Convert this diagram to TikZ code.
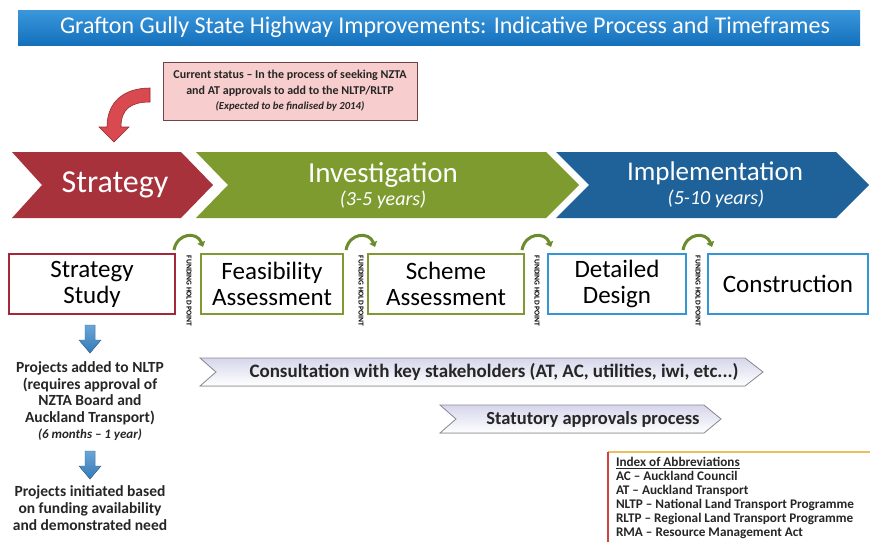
\documentclass[tikz,border=0pt]{standalone}
\usepackage{fontspec}
\setmainfont{Carlito}
\usetikzlibrary{arrows.meta}
\definecolor{titletop}{HTML}{3A97DC}
\definecolor{titlebot}{HTML}{1570BC}
\definecolor{stratred}{HTML}{A8323C}
\definecolor{invgreen}{HTML}{7D9B2E}
\definecolor{impblue}{HTML}{1F6199}
\definecolor{statusfill}{HTML}{F8CDCD}
\definecolor{statusdraw}{HTML}{6E4444}
\definecolor{arrowred}{HTML}{D84A50}
\definecolor{arrowreddark}{HTML}{9A2A30}
\definecolor{boxred}{HTML}{A3283A}
\definecolor{boxgreen}{HTML}{7F9A35}
\definecolor{boxblue}{HTML}{3496D6}
\definecolor{arcgreen}{HTML}{6B8C2C}
\definecolor{downblue}{HTML}{3A87CB}
\definecolor{lavender}{HTML}{D6D6EC}
\definecolor{chevgray}{HTML}{8C8C96}
\definecolor{abbrred}{HTML}{D04040}
\definecolor{abbryellow}{HTML}{E8C060}
\tikzset{
  fs/.style={font=\fontsize{#1}{#1}\selectfont},
  phase/.style={text=white, align=center},
  stagebox/.style={draw=#1, line width=2.2pt, fill=white, align=center, font=\fontsize{25}{26}\selectfont, minimum height=60pt},
  fundtext/.style={rotate=-90, font=\bfseries\fontsize{7.5}{8}\selectfont},
  fundarc/.style={draw=arcgreen, line width=3pt, -{Triangle[width=8pt,length=5pt]}},
  downarrow/.style={top color=downblue!75!white, bottom color=downblue!90!black, draw=downblue!80!black, line width=0.4pt},
  lefttext/.style={align=center, font=\bfseries\fontsize{15.5}{16.7}\selectfont, text=black!85},
  flowchev/.style={top color=lavender, bottom color=white, draw=chevgray, line width=0.8pt},
  flowtext/.style={font=\bfseries\fontsize{#1}{19}\selectfont, text=black!85}
}
\begin{document}
\begin{tikzpicture}[x=1pt,y=-1pt, every node/.style={inner sep=0pt, outer sep=0pt}]
\useasboundingbox (0,0) rectangle (870,541);
\fill[white] (0,0) rectangle (870,541);

% title bar
\shade[top color=titletop, bottom color=titlebot] (18,10) rectangle (860,45);
\node[text=white, fs=24] (title) at (445,27.5) {Grafton Gully State Highway Improvements: Indicative Process and Timeframes};

% status box
\node[draw=statusdraw, fill=statusfill, line width=1pt, minimum width=254pt, minimum height=58pt, align=center, font=\bfseries\fontsize{12}{16}\selectfont, text=black!85] (status) at (290,91)
 {Current status -- In the process of seeking NZTA\\and AT approvals to add to the NLTP/RLTP\\[-1pt]{\itshape\fontsize{10.7}{11}\selectfont (Expected to be finalised by 2014)}};

% red curved arrow
\filldraw[fill=arrowred, draw=arrowreddark, line width=0.6pt]
 (150,88) .. controls (125,88) and (107,101) .. (107,127) -- (99,127) -- (114,142) -- (129,127) -- (121,127)
 .. controls (121,109) and (131,102) .. (150,102) -- cycle;

% phase chevrons
\fill[stratred] (12,152) -- (181,152) -- (213,185) -- (181,218) -- (12,218) -- (42,185) -- cycle;
\fill[invgreen] (196,152) -- (546,152) -- (579,185) -- (546,218) -- (196,218) -- (228,185) -- cycle;
\fill[impblue] (556,152) -- (836,152) -- (869,185) -- (836,218) -- (556,218) -- (589,185) -- cycle;
\node[phase, fs=32] (strategy) at (115,185) {Strategy};
\node[phase, fs=29] (investigation) at (383,175) {Investigation};
\node[phase, fs=20] (invyears) at (383,200) {\itshape (3-5 years)};
\node[phase, fs=27] (implementation) at (715,173) {Implementation};
\node[phase, fs=20] (impyears) at (716,199) {\itshape (5-10 years)};

% stage boxes
\node[stagebox=boxred, minimum width=166pt] (study) at (92,284) {Strategy\\Study};
\node[stagebox=boxgreen, minimum width=142pt] (feas) at (272,284) {Feasibility\\Assessment};
\node[stagebox=boxgreen, minimum width=156pt] (scheme) at (446,284) {Scheme\\Assessment};
\node[stagebox=boxblue, minimum width=138pt] (detail) at (617,284) {Detailed\\Design};
\node[stagebox=boxblue, minimum width=160pt] (constr) at (788,284) {Construction};

% funding hold points
\foreach \n/\x in {f1/189, f2/361, f3/537, f4/698}{
  \node[fundtext] (\n) at (\x,291) {FUNDING HOLD POINT};
  \draw[fundarc] (\x-15,250) .. controls (\x-12,233) and (\x+8,231) .. (\x+14,247);
}

% left column
\filldraw[downarrow] (85,325) -- (95,325) -- (95,340) -- (101,340) -- (90,353) -- (79,340) -- (85,340) -- cycle;
\node[lefttext] (nltp) at (90,401) {Projects added to NLTP\\(requires approval of\\NZTA Board and\\Auckland Transport)\\[-1pt]{\itshape\fontsize{13}{13}\selectfont (6 months -- 1 year)}};
\filldraw[downarrow] (85,451) -- (95,451) -- (95,466) -- (101,466) -- (90,479) -- (79,466) -- (85,466) -- cycle;
\node[lefttext] (init) at (90,508) {Projects initiated based\\on funding availability\\and demonstrated need};

% flow chevrons
\filldraw[flowchev] (200,358) -- (745,358) -- (763,372) -- (745,386) -- (200,386) -- (216,372) -- cycle;
\node[flowtext=19] (consult) at (494,372) {Consultation with key stakeholders (AT, AC, utilities, iwi, etc...)};
\filldraw[flowchev] (440,405) -- (704,405) -- (721,419) -- (704,433) -- (440,433) -- (456,419) -- cycle;
\node[flowtext=18.5] (statutory) at (593,419) {Statutory approvals process};

% abbreviations
\fill[white] (608,452) rectangle (872,545);
\draw[abbryellow, line width=1.2pt] (608,452) -- (872,452);
\draw[abbrred, line width=1.2pt] (608,452) -- (608,545);
\node[anchor=north west, align=left, font=\bfseries\fontsize{13.2}{14}\selectfont, text=black!85] (abbr) at (616,457)
 {\underline{Index of Abbreviations}\\AC -- Auckland Council\\AT -- Auckland Transport\\NLTP -- National Land Transport Programme\\RLTP -- Regional Land Transport Programme\\RMA -- Resource Management Act};
\end{tikzpicture}
\end{document}
